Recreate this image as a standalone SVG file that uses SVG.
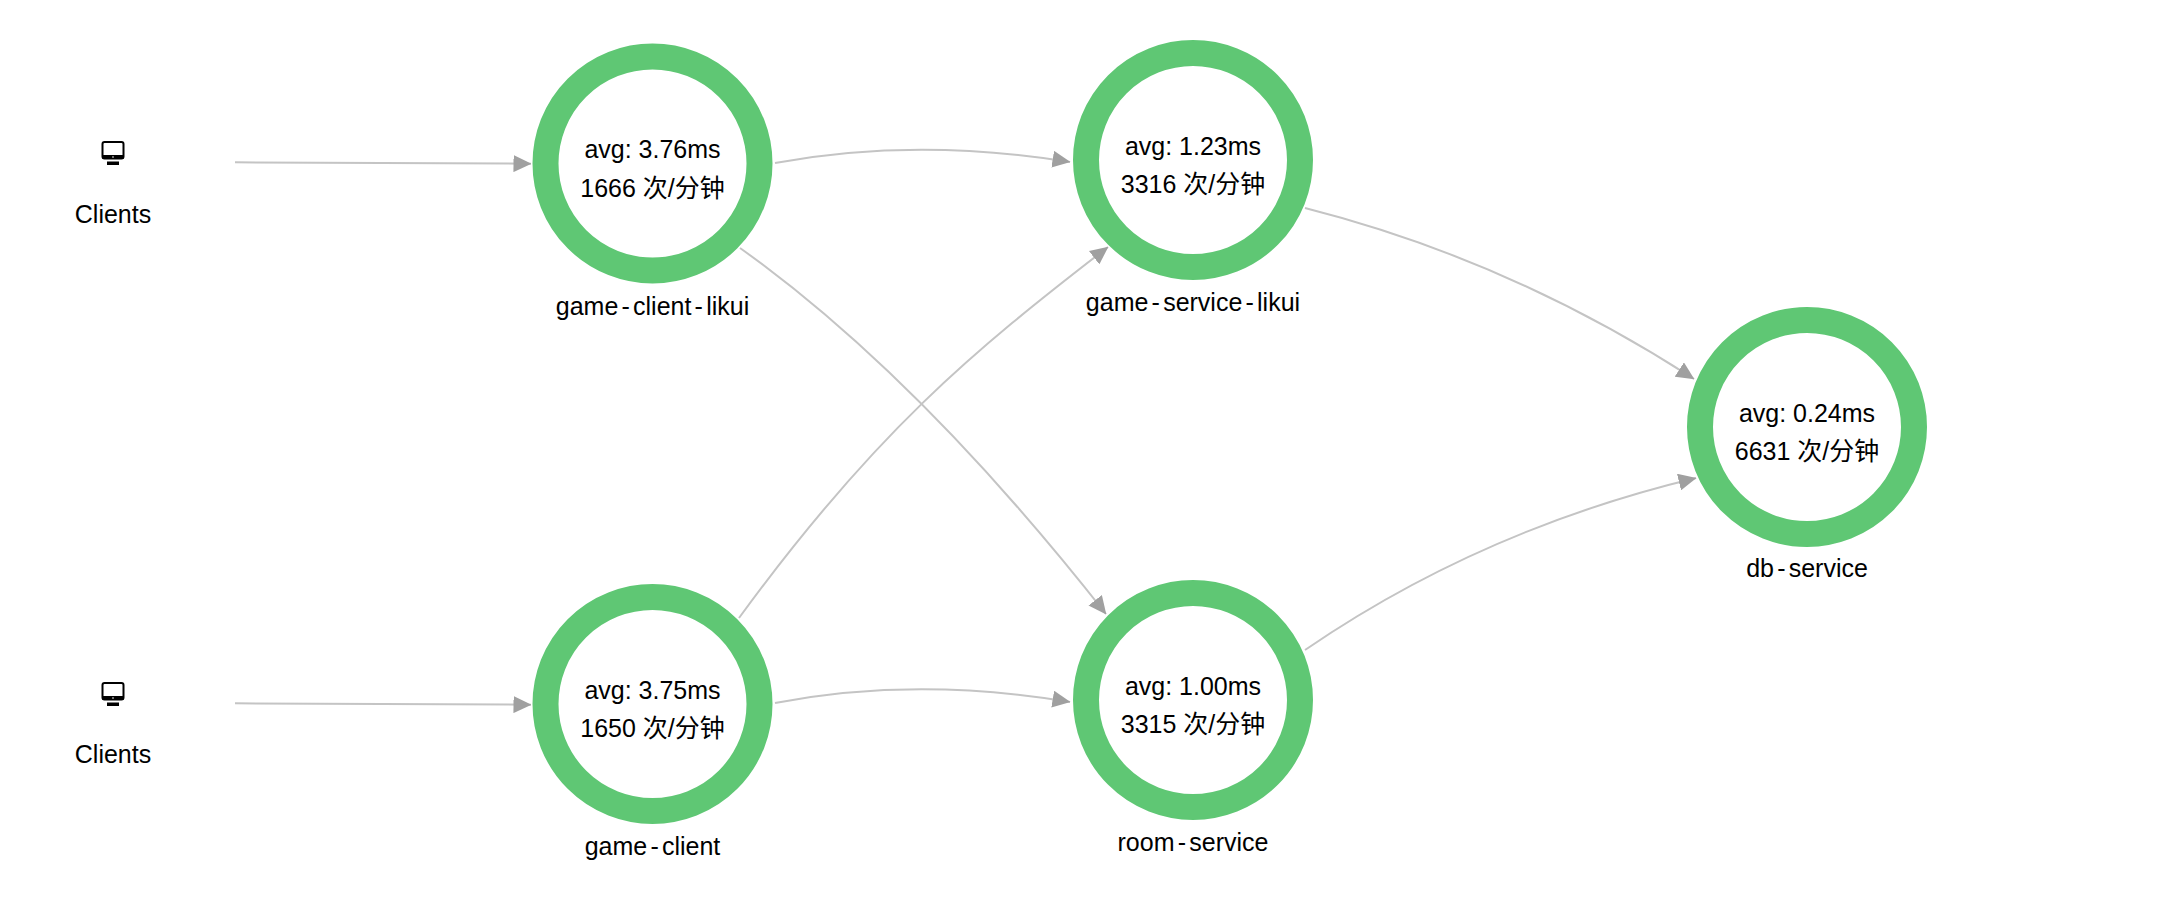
<svg xmlns="http://www.w3.org/2000/svg" width="2162" height="922" viewBox="0 0 2162 922">
<style>
text{font-family:"Liberation Sans","Noto Sans CJK SC",sans-serif;font-size:25px;fill:#000;text-anchor:middle}
.h{letter-spacing:3.2px}
.ring{fill:#fff;stroke:#5fc774;stroke-width:26}
.edge{fill:none;stroke:#c4c4c4;stroke-width:2;marker-end:url(#arrow)}
</style>
<defs>
<marker id="arrow" markerUnits="userSpaceOnUse" markerWidth="18" markerHeight="17" refX="17.500" refY="8.500" orient="auto"><path d="M0 0L18 8.500L0 17Z" fill="#a0a0a0"/></marker>
<g id="monitor"><rect x="-10.500" y="-21" width="21" height="16.500" rx="2" fill="#fff" stroke="#000" stroke-width="2"/><rect x="-10.500" y="-8" width="21" height="4" fill="#000"/><circle cx="0" cy="-6" r="0.800" fill="#fff"/><rect x="-6" y="-1.500" width="12" height="3.500" fill="#000"/></g>
</defs>
<rect width="2162" height="922" fill="#fff"/>
<g id="connectors">
<path class="edge" d="M235 162.300L531 163.700"/>
<path class="edge" d="M235 703.300L531 704.700"/>
<path class="edge" d="M775 163Q915 137 1070 162"/>
<path class="edge" d="M740 248Q918 375 1106 614"/>
<path class="edge" d="M739 618C874 433 973 351 1108 247"/>
<path class="edge" d="M775 703Q915 676 1070 702"/>
<path class="edge" d="M1305 208Q1510 260 1694 379"/>
<path class="edge" d="M1305 650Q1480 530 1696 478"/>
</g>
<g id="clients-1"><use href="#monitor" x="113" y="163"/><text x="113" y="223">Clients</text></g>
<g id="clients-2"><use href="#monitor" x="113" y="704"/><text x="113" y="763">Clients</text></g>
<g id="game-client-likui"><circle class="ring" cx="652.500" cy="163.500" r="107"/><text x="652.500" y="158">avg: 3.76ms</text><text x="652.500" y="197">1666 次/分钟</text><text x="652.500" y="315">game<tspan class="h" dx="3.200">-</tspan>client<tspan class="h" dx="3.200">-</tspan>likui</text></g>
<g id="game-service-likui"><circle class="ring" cx="1193" cy="160" r="107"/><text x="1193" y="154.500">avg: 1.23ms</text><text x="1193" y="193">3316 次/分钟</text><text x="1193" y="311">game<tspan class="h" dx="3.200">-</tspan>service<tspan class="h" dx="3.200">-</tspan>likui</text></g>
<g id="db-service"><circle class="ring" cx="1807" cy="427" r="107"/><text x="1807" y="421.500">avg: 0.24ms</text><text x="1807" y="460">6631 次/分钟</text><text x="1807" y="577">db<tspan class="h" dx="3.200">-</tspan>service</text></g>
<g id="game-client"><circle class="ring" cx="652.500" cy="704" r="107"/><text x="652.500" y="698.500">avg: 3.75ms</text><text x="652.500" y="737">1650 次/分钟</text><text x="652.500" y="855">game<tspan class="h" dx="3.200">-</tspan>client</text></g>
<g id="room-service"><circle class="ring" cx="1193" cy="700" r="107"/><text x="1193" y="694.500">avg: 1.00ms</text><text x="1193" y="733">3315 次/分钟</text><text x="1193" y="851">room<tspan class="h" dx="3.200">-</tspan>service</text></g>
</svg>
